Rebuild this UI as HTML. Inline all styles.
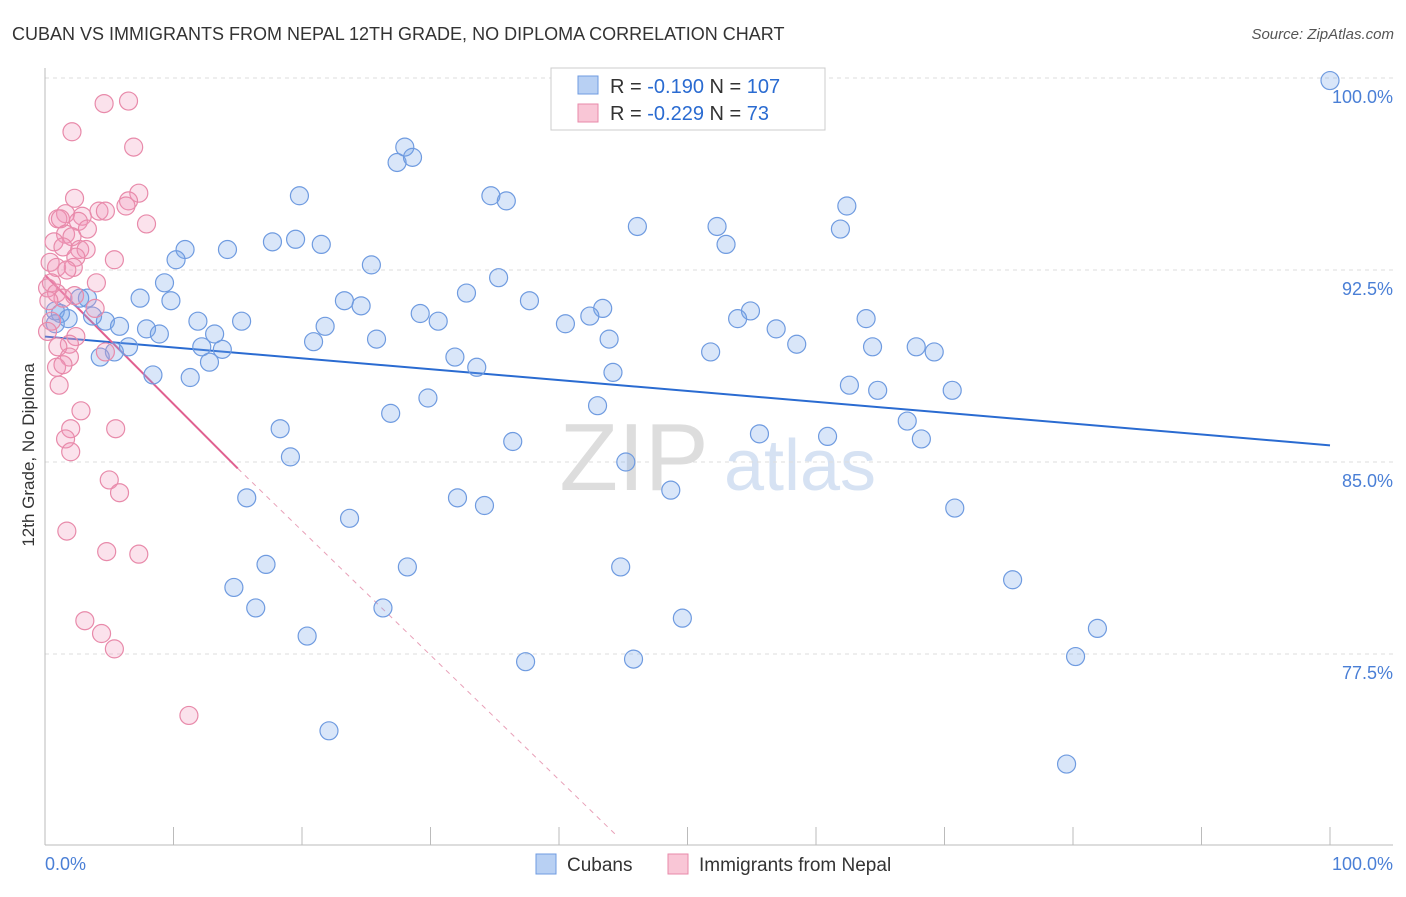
<!DOCTYPE html>
<html><head><meta charset="utf-8">
<style>
body{margin:0;background:#fff;font-family:"Liberation Sans",sans-serif;}
svg text{font-family:"Liberation Sans",sans-serif;}
</style></head>
<body>
<svg id="chart" width="1406" height="892" xmlns="http://www.w3.org/2000/svg">
<text x="12" y="40" font-size="18" fill="#333">CUBAN VS IMMIGRANTS FROM NEPAL 12TH GRADE, NO DIPLOMA CORRELATION CHART</text>
<text x="1394" y="39" font-size="15" fill="#555" text-anchor="end" font-style="italic">Source: ZipAtlas.com</text>
<text x="634" y="490" font-size="96" fill="#ddd" font-family="Liberation Serif" text-anchor="middle">ZIP</text>
<text x="800" y="490" font-size="72" fill="#d6e2f3" text-anchor="middle">atlas</text>
<text transform="translate(34,455) rotate(-90)" font-size="17" fill="#333" text-anchor="middle">12th Grade, No Diploma</text>
<g id="grid"></g><g id="trend"></g><g id="pts"></g>
<g>
<rect x="551" y="68" width="274" height="62" fill="#fff" stroke="#ccc"/>
<rect x="578" y="76" width="20" height="18" fill="#b8d0f3" stroke="#6f9be0"/>
<rect x="578" y="104" width="20" height="18" fill="#f9c6d6" stroke="#e88aaa"/>
<text x="610" y="93" font-size="20" fill="#333">R = <tspan fill="#2a6bd1">-0.190</tspan>   N = <tspan fill="#2a6bd1">107</tspan></text>
<text x="610" y="120" font-size="20" fill="#333">R = <tspan fill="#2a6bd1">-0.229</tspan>   N = <tspan fill="#2a6bd1">  73</tspan></text>
</g>
<g>
<rect x="536" y="854" width="20" height="20" fill="#b8d0f3" stroke="#6f9be0"/>
<text x="567" y="871" font-size="19" fill="#333">Cubans</text>
<rect x="668" y="854" width="20" height="20" fill="#f9c6d6" stroke="#e88aaa"/>
<text x="699" y="871" font-size="19" fill="#333">Immigrants from Nepal</text>
</g>
<text x="45" y="870" font-size="18" fill="#4a7fd6">0.0%</text>
<text x="1393" y="870" font-size="18" fill="#4a7fd6" text-anchor="end">100.0%</text>
</svg>
<script>
const yTicks=[100,92.5,85,77.5];
const yTickLabels=["100.0%","92.5%","85.0%","77.5%"];
const xTicks=[0,10,20,30,40,50,60,70,80,90,100];
const cubanX=[100,28.0,27.4,28.6,19.8,34.7,35.9,62.4,46.1,52.3,61.9,53.0,17.7,19.5,21.5,10.9,14.2,10.2,25.4,35.3,9.3,7.4,9.8,3.3,32.8,23.3,24.6,37.7,43.4,42.4,29.2,30.6,40.5,54.9,53.9,63.9,15.3,11.9,21.8,4.7,5.8,7.9,8.9,13.2,56.9,20.9,25.8,43.9,12.2,13.8,58.5,64.4,67.8,69.2,51.8,6.5,5.4,4.3,12.8,31.9,33.6,44.2,8.4,11.3,62.6,64.8,70.6,29.8,43.0,26.9,67.1,18.3,55.6,60.9,68.2,36.4,19.1,45.2,48.7,15.7,32.1,34.2,70.8,23.7,17.2,28.2,44.8,75.3,14.7,16.4,26.3,49.6,81.9,20.4,37.4,45.8,80.2,22.1,79.5,0.8,1.2,0.8,1.8,2.7,3.7];
const cubanY=[99.9,97.3,96.7,96.9,95.4,95.4,95.2,95.0,94.2,94.2,94.1,93.5,93.6,93.7,93.5,93.3,93.3,92.9,92.7,92.2,92.0,91.4,91.3,91.4,91.6,91.3,91.1,91.3,91.0,90.7,90.8,90.5,90.4,90.9,90.6,90.6,90.5,90.5,90.3,90.5,90.3,90.2,90.0,90.0,90.2,89.7,89.8,89.8,89.5,89.4,89.6,89.5,89.5,89.3,89.3,89.5,89.3,89.1,88.9,89.1,88.7,88.5,88.4,88.3,88.0,87.8,87.8,87.5,87.2,86.9,86.6,86.3,86.1,86.0,85.9,85.8,85.2,85.0,83.9,83.6,83.6,83.3,83.2,82.8,81.0,80.9,80.9,80.4,80.1,79.3,79.3,78.9,78.5,78.2,77.2,77.3,77.4,74.5,73.2,90.9,90.8,90.4,90.6,91.4,90.7];
const nepalX=[6.5,4.6,2.1,6.9,7.3,2.3,6.5,6.3,4.2,4.7,1.6,2.9,1.0,1.2,7.9,2.6,3.3,1.6,2.1,0.7,1.4,2.7,3.2,2.4,5.4,0.4,0.9,2.2,1.7,0.5,4.0,0.2,0.9,1.4,2.3,0.3,3.9,0.5,0.2,2.4,1.9,1.0,1.9,0.9,1.4,4.7,1.1,2.8,5.5,2.0,1.6,2.0,5.0,5.8,1.7,4.8,7.3,3.1,4.4,5.4,11.2];
const nepalY=[99.1,99.0,97.9,97.3,95.5,95.3,95.2,95.0,94.8,94.8,94.7,94.6,94.5,94.5,94.3,94.4,94.1,93.9,93.8,93.6,93.4,93.3,93.3,93.0,92.9,92.8,92.6,92.6,92.5,92.0,92.0,91.8,91.6,91.4,91.5,91.3,91.0,90.5,90.1,89.9,89.6,89.5,89.1,88.7,88.8,89.3,88.0,87.0,86.3,86.3,85.9,85.4,84.3,83.8,82.3,81.5,81.4,78.8,78.3,77.7,75.1];
const cubanTrend=[[0,89.9],[100,85.65]];
const nepalTrend=[[0,92.3],[15,84.75],[44.5,70.4]];
const NS="http://www.w3.org/2000/svg";
const X=v=>45+v*12.85, Y=v=>78+(100-v)*25.6;
function mk(tag,attrs,parent){const e=document.createElementNS(NS,tag);for(const k in attrs)e.setAttribute(k,attrs[k]);document.getElementById(parent).appendChild(e);return e;}
const g=document.getElementById('grid');
yTicks.forEach((t,i)=>{
 const l=mk('line',{x1:45,x2:1393,y1:Y(t),y2:Y(t),stroke:'#ddd','stroke-dasharray':'4,4'},'grid');
 
 
 const tx=mk('text',{x:1393,y:Y(t)+25,'font-size':18,fill:'#4a7fd6','text-anchor':'end'},'grid');
 tx.textContent=yTickLabels[i];
 
 
});
const ax=mk('line',{x1:45,x2:1393,y1:845,y2:845,stroke:'#bbb'},'grid');


const ay=mk('line',{x1:45,x2:45,y1:68,y2:845,stroke:'#bbb'},'grid');


xTicks.forEach(t=>{const l=mk('line',{x1:X(t),x2:X(t),y1:827,y2:845,stroke:'#bbb'},'grid');
 
 });
function pts(xs,ys,fill,stroke,name){xs.forEach((x,i)=>{const c=mk('circle',{cx:X(x),cy:Y(ys[i]),r:9,fill:fill,stroke:stroke,'stroke-width':1.2},'pts');
 
 });}
pts(cubanX,cubanY,'rgba(120,165,235,0.28)','#6f9be0','cuban-point');
pts(nepalX,nepalY,'rgba(240,150,185,0.28)','#e88aaa','nepal-point');
const bt=mk('line',{x1:X(cubanTrend[0][0]),y1:Y(cubanTrend[0][1]),x2:X(cubanTrend[1][0]),y2:Y(cubanTrend[1][1]),stroke:'#2a6bd1','stroke-width':2},'trend');


const pt=mk('line',{x1:X(nepalTrend[0][0]),y1:Y(nepalTrend[0][1]),x2:X(nepalTrend[1][0]),y2:Y(nepalTrend[1][1]),stroke:'#e06090','stroke-width':2},'trend');


const pd=mk('line',{x1:X(nepalTrend[1][0]),y1:Y(nepalTrend[1][1]),x2:X(nepalTrend[2][0]),y2:Y(nepalTrend[2][1]),stroke:'#e8a0b8','stroke-width':1,'stroke-dasharray':'5,5'},'trend');


</script>
</body></html>
